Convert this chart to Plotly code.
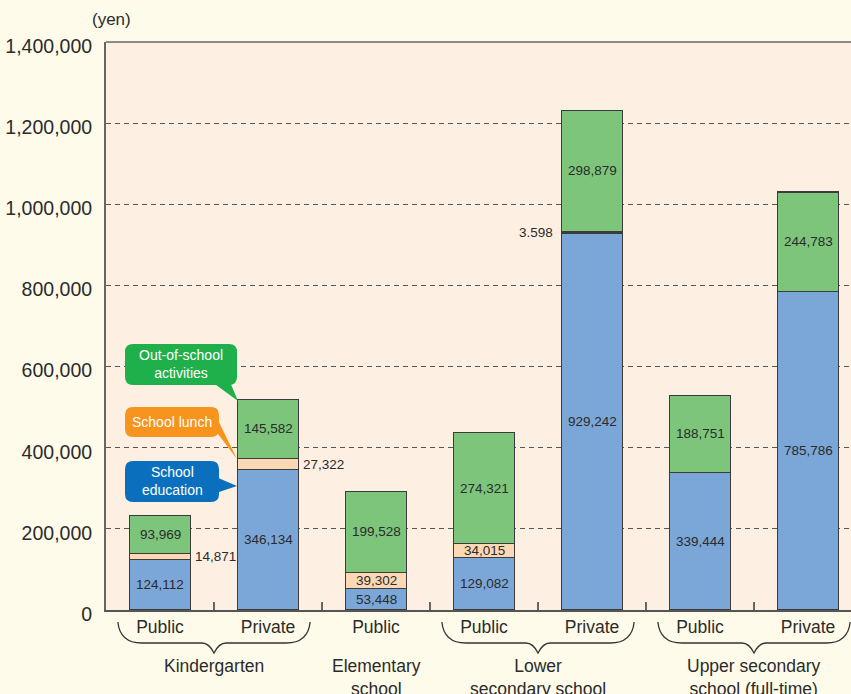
import plotly.graph_objects as go

# ---------------- data ----------------
bar_labels = ["Public", "Private", "Public", "Public", "Private", "Public", "Private"]
school_education = [124112, 346134, 53448, 129082, 929242, 339444, 785786]
school_lunch = [14871, 27322, 39302, 34015, 3598, None, None]
out_of_school = [93969, 145582, 199528, 274321, 298879, 188751, 244783]
lunch_text = ["14,871", "27,322", "39,302", "34,015", "3.598", "", ""]
lunch_label_side = ["right", "right", "inside", "inside", "left", "", ""]
group_names = ["Kindergarten", "Elementary<br>school", "Lower<br>secondary school",
               "Upper secondary<br>school (full-time)"]
group_members = [[0, 1], [2], [3, 4], [5, 6]]
y_ticks = [0, 200000, 400000, 600000, 800000, 1000000, 1200000, 1400000]

FONT = "Liberation Sans, Arial, Helvetica, sans-serif"
C_EDU = "#7ba6d8"
C_LUNCH = "#fdd8b4"
C_OUT = "#7cc57b"
EDGE = "#3c3c3c"
TXT = "#2b2b2b"

W, H = 851, 694
ML, MR, MT, MB = 106, 0, 42, 84
PW, PH = W - ML - MR, H - MT - MB
XR = [-0.5, 6.398]
BW = 0.565

def PX(px):
    return (px - ML) / PW

def PY(py):
    return (H - MB - py) / PH

def xdata_to_px(x):
    return ML + (x - XR[0]) / (XR[1] - XR[0]) * PW

def path(cmds):
    out = []
    for c in cmds:
        op = c[0]
        pts = c[1:]
        s = op
        for i in range(0, len(pts), 2):
            s += " %.5f,%.5f" % (PX(pts[i]), PY(pts[i + 1]))
        out.append(s)
    return " ".join(out) + " Z"

def rounded_rect(x0, y0, x1, y1, r=8):
    return path([
        ("M", x0 + r, y0), ("L", x1 - r, y0), ("Q", x1, y0, x1, y0 + r),
        ("L", x1, y1 - r), ("Q", x1, y1, x1 - r, y1), ("L", x0 + r, y1),
        ("Q", x0, y1, x0, y1 - r), ("L", x0, y0 + r), ("Q", x0, y0, x0 + r, y0),
    ])

xs = list(range(len(bar_labels)))

fig = go.Figure()
lw = 1.3
fig.add_trace(go.Bar(x=xs, y=school_education, width=BW, marker=dict(color=C_EDU, line=dict(color=EDGE, width=lw)),
                     name="School education", hoverinfo="skip"))
fig.add_trace(go.Bar(x=xs, y=school_lunch, width=BW, marker=dict(color=C_LUNCH, line=dict(color=EDGE, width=lw)),
                     name="School lunch", hoverinfo="skip"))
fig.add_trace(go.Bar(x=xs, y=out_of_school, width=BW, marker=dict(color=C_OUT, line=dict(color=EDGE, width=lw)),
                     name="Out-of-school activities", hoverinfo="skip"))

VAL = dict(family=FONT, size=13.5, color=TXT)
annotations = []
for i in xs:
    e = school_education[i]
    l = school_lunch[i] or 0
    o = out_of_school[i]
    annotations.append(dict(x=i, y=e / 2, xref="x", yref="y", text=f"{e:,}", showarrow=False, font=VAL))
    annotations.append(dict(x=i, y=e + l + o / 2, xref="x", yref="y", text=f"{o:,}", showarrow=False, font=VAL))
    if lunch_text[i]:
        side = lunch_label_side[i]
        a = dict(y=e + l / 2, xref="x", yref="y", text=lunch_text[i], showarrow=False, font=VAL)
        if side == "inside":
            a.update(x=i)
        elif side == "right":
            a.update(x=i + BW / 2, xanchor="left", xshift=2)
        else:
            a.update(x=i - BW / 2, xanchor="right", xshift=-7)
        annotations.append(a)

shapes = []
for name, mem in zip(group_names, group_members):
    xc = sum(mem) / len(mem)
    annotations.append(dict(x=xc, y=PY(654), xref="x", yref="paper", text=name, showarrow=False,
                            xanchor="center", yanchor="top", align="center",
                            font=dict(family=FONT, size=17.5, color=TXT)))
    if len(mem) == 2:
        a = xdata_to_px(mem[0] - 0.39)
        b = xdata_to_px(mem[1] + 0.39)
        c = (a + b) / 2
        p = " ".join([
            "M %.5f,%.5f" % (PX(a), PY(622)),
            "Q %.5f,%.5f %.5f,%.5f" % (PX(a + 2), PY(643), PX(a + 24), PY(643)),
            "L %.5f,%.5f" % (PX(c - 12), PY(643)),
            "Q %.5f,%.5f %.5f,%.5f" % (PX(c - 5), PY(643), PX(c), PY(653)),
            "Q %.5f,%.5f %.5f,%.5f" % (PX(c + 5), PY(643), PX(c + 12), PY(643)),
            "L %.5f,%.5f" % (PX(b - 24), PY(643)),
            "Q %.5f,%.5f %.5f,%.5f" % (PX(b - 2), PY(643), PX(b), PY(622)),
        ])
        shapes.append(dict(type="path", xref="paper", yref="paper", path=p,
                           line=dict(color="#333", width=1.3)))

shapes.append(dict(type="line", xref="paper", yref="paper", x0=0, x1=1, y0=1, y1=1,
                   line=dict(color="#666", width=1.5)))

G, O, B = "#1fb04b", "#f7941d", "#0a70bd"
shapes.append(dict(type="path", xref="paper", yref="paper", layer="above",
                   path=path([("M", 212, 382), ("L", 238, 401), ("L", 230, 382)]),
                   fillcolor=G, line=dict(width=0)))
shapes.append(dict(type="path", xref="paper", yref="paper", layer="above",
                   path=rounded_rect(125, 344, 237, 385), fillcolor=G, line=dict(width=0)))
shapes.append(dict(type="path", xref="paper", yref="paper", layer="above",
                   path=path([("M", 212, 426), ("L", 237, 459), ("L", 217, 418)]),
                   fillcolor=O, line=dict(width=0)))
shapes.append(dict(type="path", xref="paper", yref="paper", layer="above",
                   path=rounded_rect(125, 407, 219, 437), fillcolor=O, line=dict(width=0)))
shapes.append(dict(type="path", xref="paper", yref="paper", layer="above",
                   path=path([("M", 216, 477), ("L", 237, 486), ("L", 216, 493)]),
                   fillcolor=B, line=dict(width=0)))
shapes.append(dict(type="path", xref="paper", yref="paper", layer="above",
                   path=rounded_rect(125, 461, 219, 502), fillcolor=B, line=dict(width=0)))

for txt, cx, cy in [("Out-of-school<br>activities", 181, 364.5), ("School lunch", 172, 422),
                    ("School<br>education", 172, 481.5)]:
    annotations.append(dict(x=PX(cx), y=PY(cy), xref="paper", yref="paper", text=txt, showarrow=False,
                            xanchor="center", yanchor="middle",
                            font=dict(family=FONT, size=14, color="white"), align="center"))

annotations.append(dict(x=PX(111), y=PY(19), xref="paper", yref="paper", text="(yen)", showarrow=False,
                        xanchor="center", yanchor="middle",
                        font=dict(family=FONT, size=17, color=TXT)))

fig.update_layout(
    width=W, height=H, barmode="stack", showlegend=False,
    margin=dict(l=ML, r=MR, t=MT, b=MB, pad=0, autoexpand=False),
    paper_bgcolor="#fefbea", plot_bgcolor="#fdf0e3",
    font=dict(family=FONT, color=TXT),
    annotations=annotations, shapes=shapes,
    xaxis=dict(range=XR, tickmode="array", tickvals=xs, ticktext=bar_labels, ticks="",
               automargin=False,
               showgrid=False, zeroline=False, showline=True, linecolor="#555", linewidth=2,
               tickfont=dict(family=FONT, size=17.5, color=TXT),
               minor=dict(tickmode="array", tickvals=[i + 0.5 for i in xs[:-1]], ticks="inside",
                          ticklen=8, tickcolor="#666", tickwidth=1.5, showgrid=False)),
    yaxis=dict(range=[0, 1400000], tickmode="array", tickvals=y_ticks, tickformat=",",
               automargin=False,
               showgrid=True, gridcolor="#555", griddash="5px,4px", gridwidth=1,
               zeroline=False, showline=True, linecolor="#666", linewidth=2, ticks="",
               ticklabelstandoff=8, ticklabelshift=4,
               tickfont=dict(family=FONT, size=19.5, color=TXT)),
)

fig.write_html("out.html", config={"displayModeBar": False},
               post_script="document.body.style.margin='0';document.body.style.padding='0';")
